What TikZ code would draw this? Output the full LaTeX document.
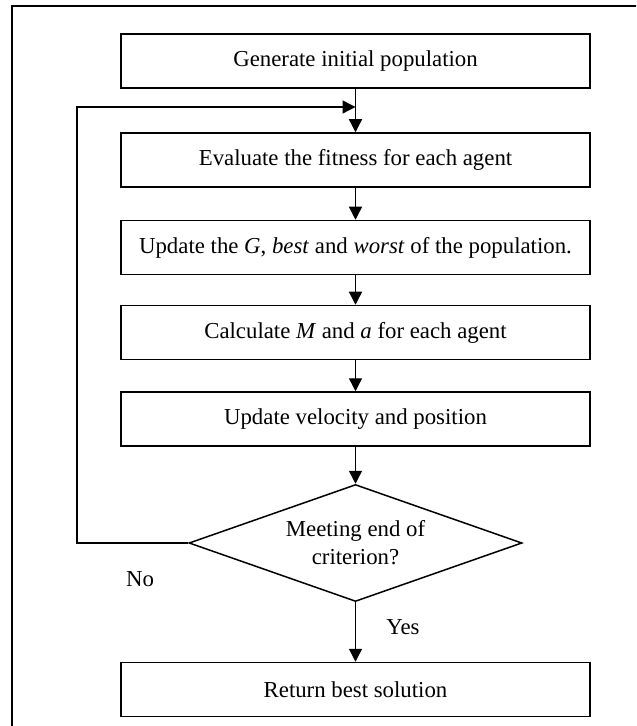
\documentclass[tikz,border=0pt]{standalone}
\usepackage{fontspec}
\setmainfont{Liberation Serif}
\usetikzlibrary{shapes.geometric,arrows.meta}

\begin{document}
\begin{tikzpicture}[x=0.5pt,y=-0.5pt,
        texto/.style={font=\fontsize{11.4}{14}\selectfont},
        caja/.style={texto,draw,line width=0.75pt,minimum width=234.5pt,minimum height=27pt,inner sep=0pt},
        rombo/.style={texto,draw,diamond,aspect=2.85,line width=0.75pt,minimum width=166.5pt,minimum height=58.5pt,inner sep=0pt,align=center},
        flecha/.style={line width=0.7pt,-{Triangle[length=6.5pt,width=6.5pt]}}]

        % Marco
        \useasboundingbox (0,0) rectangle (636,726);
        \clip (0,0) rectangle (636,726);
        \draw[line width=0.9pt] (12,760) -- (12,6) -- (680,6);

        % Pasos
        \node[caja] (gen) at (355.5,61) {Generate initial population};
        \node[caja] (eval) at (355.5,160) {Evaluate the fitness for each agent};
        \node[caja] (upd) at (355.5,247.5) {Update the \textit{G}, \textit{best} and \textit{worst} of the population.};
        \node[caja] (calc) at (355.5,332.5) {Calculate \textit{M} and \textit{a} for each agent};
        \node[caja] (vel) at (355.5,419) {Update velocity and position};
        \node[rombo] (crit) at (355.5,543) {Meeting end of\\criterion?};
        \node[caja] (ret) at (355.5,689.5) {Return best solution};

        % Etiquetas
        \node[texto] (no) at (140,579) {No};
        \node[texto] (yes) at (403,627) {Yes};

        % Flechas
        \coordinate (merge) at (355.5,107);
        \coordinate (lazo) at (77,543);
        \draw[flecha] (gen) -- (eval);
        \draw[flecha] (eval) -- (upd);
        \draw[flecha] (upd) -- (calc);
        \draw[flecha] (calc) -- (vel);
        \draw[flecha] (vel) -- (crit);
        \draw[flecha] (crit) -- (ret);
        \draw[flecha] (crit.west) -- (lazo) |- (merge);
    \end{tikzpicture}
\end{document}
